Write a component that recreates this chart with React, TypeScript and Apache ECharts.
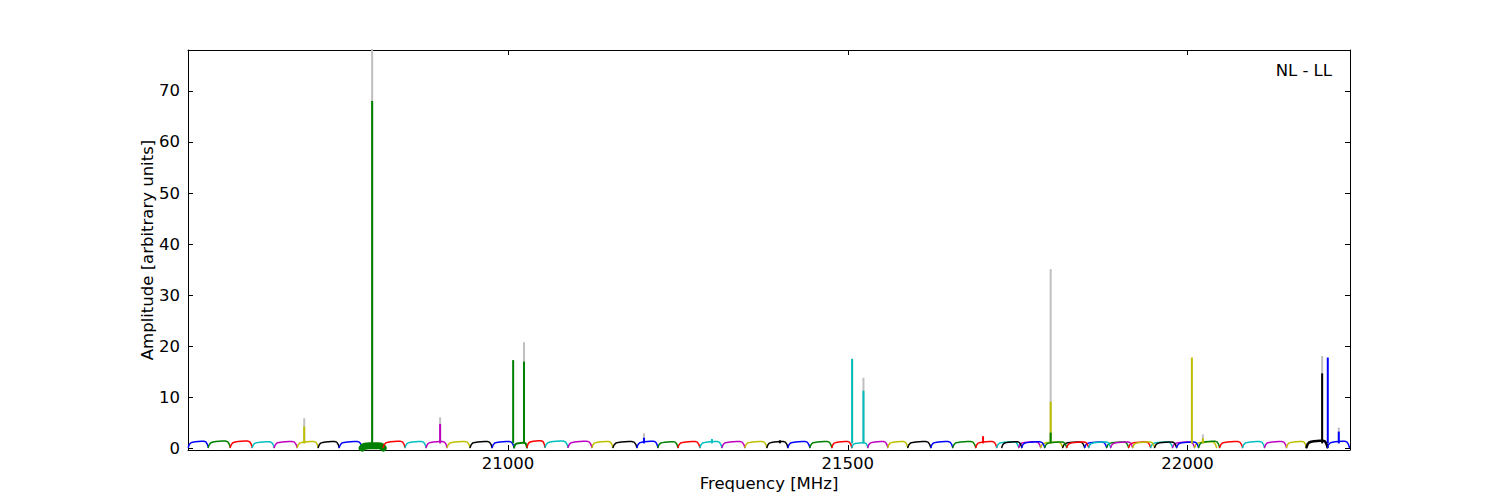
import React, { useEffect, useRef } from "react";
import * as echarts from "echarts";

const X_MIN = 20529;
const X_MAX = 22239;
const Y_MIN = -0.3;
const Y_MAX = 78;

const X_TICKS = [21000, 21500, 22000];
const Y_TICKS = [0, 10, 20, 30, 40, 50, 60, 70];

const COLORS: Record<string, string> = {
  b: "#0000ff",
  g: "#008000",
  r: "#ff0000",
  c: "#00bfbf",
  m: "#bf00bf",
  y: "#bfbf00",
  k: "#000000",
};
const GREY = "#bfbfbf";

// Subband edges (MHz), colours and passband heights
const SUB_START = [
  20529.4, 20558.8, 20591.2, 20623.5, 20655.9, 20689.7, 20720.6, 20751.5, 20785.3, 20816.2,
  20848.5, 20879.4, 20910.3, 20944.1, 20976.5, 21008.8, 21027.9, 21054.4, 21088.2, 21123.5,
  21154.4, 21189.7, 21220.6, 21250.0, 21282.4, 21314.7, 21348.5, 21380.9, 21411.8, 21444.1,
  21476.5, 21505.9, 21529.4, 21558.8, 21588.2, 21622.1, 21654.4, 21688.2,
  21719.1, 21751.5, 21783.8, 21816.2, 21848.5, 21880.9, 21913.2, 21945.6, 21977.9, 22010.3,
  21726.5, 21755.9, 21789.7, 21822.1, 21854.4, 21886.8, 21919.1, 21951.5, 21983.8, 22016.2,
  22047.1, 22080.9, 22113.2, 22145.6, 22175.0, 22205.9,
];
const SUB_END = [
  20558.8, 20591.2, 20623.5, 20655.9, 20689.7, 20720.6, 20751.5, 20785.3, 20816.2, 20848.5,
  20879.4, 20910.3, 20944.1, 20976.5, 21008.8, 21027.9, 21054.4, 21088.2, 21123.5, 21154.4,
  21189.7, 21220.6, 21250.0, 21282.4, 21314.7, 21348.5, 21380.9, 21411.8, 21444.1, 21476.5,
  21505.9, 21529.4, 21558.8, 21588.2, 21622.1, 21654.4, 21688.2, 21719.1,
  21751.5, 21783.8, 21816.2, 21848.5, 21880.9, 21913.2, 21945.6, 21977.9, 22010.3, 22042.6,
  21755.9, 21789.7, 21822.1, 21854.4, 21886.8, 21919.1, 21951.5, 21983.8, 22016.2, 22047.1,
  22080.9, 22113.2, 22145.6, 22175.0, 22205.9, 22238.2,
];
const SUB_COLOR = [
  "b", "g", "r", "c", "m", "y", "k", "b", "g", "r",
  "c", "m", "y", "k", "b", "g", "r", "c", "m", "y",
  "k", "b", "g", "r", "c", "m", "y", "k", "b", "g",
  "r", "c", "m", "y", "k", "b", "g", "r",
  "c", "m", "y", "k", "b", "g", "r", "c", "m", "y",
  "k", "b", "g", "r", "c", "m", "y", "k", "b", "g",
  "r", "c", "m", "y", "k", "b",
];
const SUB_LEVEL = [
  1.4, 1.45, 1.45, 1.3, 1.35, 1.35, 1.35, 1.35, 0.55, 1.4,
  1.35, 1.35, 1.35, 1.35, 1.35, 1.1, 1.5, 1.45, 1.4, 1.35,
  1.35, 1.4, 1.3, 1.35, 1.35, 1.35, 1.35, 1.35, 1.35, 1.35,
  1.35, 1.1, 1.35, 1.35, 1.35, 1.35, 1.35, 1.35,
  1.3, 1.3, 1.25, 1.25, 1.25, 1.25, 1.25, 1.25, 1.25, 1.3,
  1.3, 1.3, 1.25, 1.25, 1.25, 1.25, 1.25, 1.25, 1.25, 1.4,
  1.35, 1.35, 1.35, 1.35, 1.5, 1.4,
];
const SUB_WIDTH = [
  1.5, 1.5, 1.5, 1.5, 1.5, 1.5, 1.5, 1.5, 7, 1.5,
  1.5, 1.5, 1.5, 1.5, 1.5, 2, 1.5, 1.5, 1.5, 1.5,
  1.5, 1.5, 1.5, 1.5, 1.5, 1.5, 1.5, 1.5, 1.5, 1.5,
  1.5, 1.5, 1.5, 1.5, 1.5, 1.5, 1.5, 1.5,
  1.5, 1.5, 1.5, 1.5, 1.5, 1.5, 1.5, 1.5, 1.5, 1.5,
  1.5, 1.5, 1.5, 1.5, 1.5, 1.5, 1.5, 1.5, 1.5, 1.5,
  1.5, 1.5, 1.5, 1.5, 2.5, 1.5,
];

// Passband shape across one subband (fraction of width, fraction of level)
const SHAPE_POS = [0, 0.05, 0.12, 0.22, 0.35, 0.5, 0.65, 0.78, 0.88, 0.95, 1];
const SHAPE_VAL = [0.15, 0.55, 0.78, 0.88, 0.93, 0.97, 1.0, 1.0, 0.92, 0.6, 0.15];

// Narrow spectral spikes (MHz), their colour, height, and the height of the grey trace behind
const SPIKE_FREQ = [
  20700, 20800, 20900, 21007.5, 21023.5, 21200, 21300, 21400, 21506.3, 21523,
  21699, 21798.5, 21798.5, 22006.3, 22022.5, 22198, 22206.3, 22222.5,
];
const SPIKE_COLOR = ["y", "g", "m", "g", "g", "b", "c", "k", "c", "c", "r", "y", "g", "y", "y", "k", "b", "b"];
const SPIKE_PEAK = [4.3, 68, 4.8, 17.3, 17.0, 2.1, 1.85, 1.6, 17.5, 11.3, 2.4, 9.15, 3.1, 17.8, 2.0, 14.7, 17.8, 3.3];
const GREY_PEAK: (number | null)[] = [
  5.9, 80, 6.1, null, 20.8, 2.96, null, null, 17.6, 13.85,
  null, 35.1, null, null, 2.75, 18.1, null, 4.1,
];
const SPIKE_BASE = 1.0;

const FONT = "DejaVu Sans";
const FS = 16.5;

function buildOption() {
  const series: any[] = [];

  SPIKE_FREQ.forEach((f, i) => {
    const g = GREY_PEAK[i];
    if (g === null) return;
    series.push({
      type: "line",
      xAxisIndex: 0,
      yAxisIndex: 0,
      data: [
        [f, SPIKE_BASE],
        [f, g],
      ],
      symbol: "none",
      silent: true,
      z: 1,
      lineStyle: { color: GREY, width: 2 },
    });
  });

  SUB_START.forEach((s, i) => {
    const e = SUB_END[i];
    const data = SHAPE_POS.map((p, j) => [s + p * (e - s), SHAPE_VAL[j] * SUB_LEVEL[i]]);
    series.push({
      type: "line",
      xAxisIndex: 0,
      yAxisIndex: 0,
      data,
      symbol: "none",
      silent: true,
      z: 2,
      lineStyle: { color: COLORS[SUB_COLOR[i]], width: SUB_WIDTH[i], cap: "round", join: "round" },
    });
  });

  SPIKE_FREQ.forEach((f, i) => {
    series.push({
      type: "line",
      xAxisIndex: 0,
      yAxisIndex: 0,
      data: [
        [f, SPIKE_BASE],
        [f, SPIKE_PEAK[i]],
      ],
      symbol: "none",
      silent: true,
      z: 3,
      lineStyle: { color: COLORS[SPIKE_COLOR[i]], width: 2 },
    });
  });

  const axisLine = { show: true, onZero: false, lineStyle: { color: "#000", width: 1 } };
  const tickStyle = { color: "#000", width: 1 };
  const labelStyle = { color: "#000", fontSize: FS, fontFamily: FONT };

  return {
    animation: false,
    backgroundColor: "#fff",
    textStyle: { fontFamily: FONT },
    grid: { left: 188, right: 150, top: 50, bottom: 50, containLabel: false },
    xAxis: [
      {
        type: "value",
        position: "bottom",
        min: X_MIN,
        max: X_MAX,
        axisLine,
        splitLine: { show: false },
        axisTick: { show: true, inside: true, length: 5, customValues: X_TICKS, lineStyle: tickStyle },
        axisLabel: {
          ...labelStyle,
          margin: 5,
          customValues: X_TICKS,
          formatter: (v: number) => String(v),
        },
        name: "Frequency [MHz]",
        nameLocation: "middle",
        nameGap: 25,
        nameMoveOverlap: false,
        nameTextStyle: labelStyle,
      },
      {
        type: "value",
        position: "top",
        min: X_MIN,
        max: X_MAX,
        axisLine,
        splitLine: { show: false },
        axisTick: { show: true, inside: true, length: 5, customValues: X_TICKS, lineStyle: tickStyle },
        axisLabel: { show: false },
      },
    ],
    yAxis: [
      {
        type: "value",
        position: "left",
        min: Y_MIN,
        max: Y_MAX,
        axisLine,
        splitLine: { show: false },
        axisTick: { show: true, inside: true, length: 5, customValues: Y_TICKS, lineStyle: tickStyle },
        axisLabel: {
          ...labelStyle,
          margin: 8,
          customValues: Y_TICKS,
          formatter: (v: number) => String(v),
        },
        name: "Amplitude [arbitrary units]",
        nameLocation: "middle",
        nameGap: 32,
        nameRotate: 90,
        nameMoveOverlap: false,
        nameTextStyle: labelStyle,
      },
      {
        type: "value",
        position: "right",
        min: Y_MIN,
        max: Y_MAX,
        axisLine,
        splitLine: { show: false },
        axisTick: { show: true, inside: true, length: 5, customValues: Y_TICKS, lineStyle: tickStyle },
        axisLabel: { show: false },
      },
    ],
    graphic: [
      {
        type: "text",
        right: 168,
        top: 62,
        style: { text: "NL - LL", fill: "#000", fontSize: FS, fontFamily: FONT },
        z: 10,
      },
    ],
    series,
  };
}

export default function App() {
  const ref = useRef<HTMLDivElement>(null);
  useEffect(() => {
    if (!ref.current) return;
    const chart = echarts.init(ref.current, null, { renderer: "svg" });
    chart.setOption(buildOption() as any);
    return () => chart.dispose();
  }, []);
  return (
    <div
      ref={ref}
      style={{ position: "fixed", left: 0, top: 0, width: 1500, height: 500, background: "#fff" }}
    />
  );
}
